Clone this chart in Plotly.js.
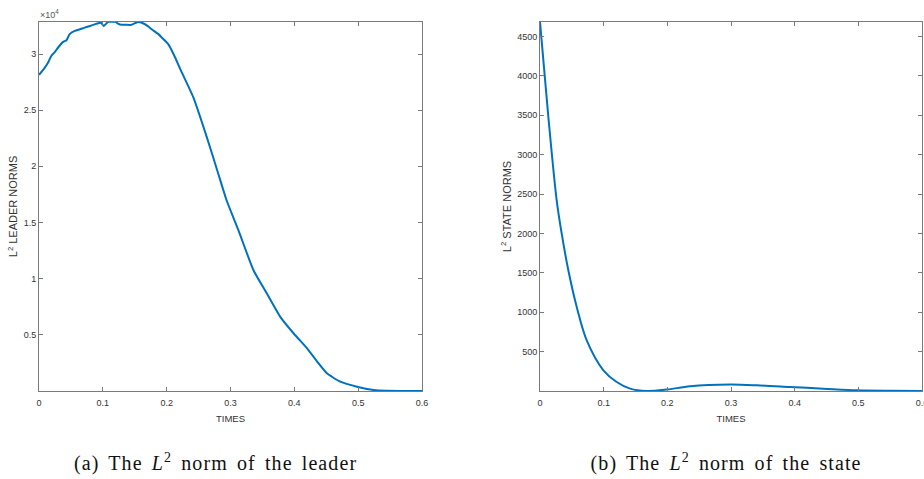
<!DOCTYPE html>
<html>
<head>
<meta charset="utf-8">
<script src="https://cdn.plot.ly/plotly-3.0.1.min.js"></script>
<style>
html,body{margin:0;padding:0;background:#fff;}
#chart{width:924px;height:479px;}
text.annotation-text.caption-like{letter-spacing:1.1px;word-spacing:3px;}
</style>
</head>
<body>
<div id="chart"></div>
<script>
// Leader L2 norm (values in units of 1e4)
const leaderTimes = [0, 0.008, 0.0143, 0.0194, 0.025, 0.03, 0.0377, 0.043, 0.048, 0.056, 0.064, 0.0717, 0.08, 0.0926, 0.097, 0.1016, 0.1083, 0.119, 0.127, 0.136, 0.145, 0.155, 0.163, 0.17, 0.1764, 0.187, 0.195, 0.2025, 0.212, 0.221, 0.2418, 0.263, 0.28, 0.294, 0.3125, 0.336, 0.357, 0.378, 0.399, 0.42, 0.436, 0.451, 0.472, 0.498, 0.524, 0.545, 0.57, 0.6];
const leaderNorms = [2.815, 2.87, 2.925, 2.984, 3.02, 3.058, 3.108, 3.123, 3.177, 3.206, 3.22, 3.235, 3.25, 3.274, 3.278, 3.25, 3.286, 3.286, 3.262, 3.26, 3.26, 3.286, 3.274, 3.25, 3.221, 3.177, 3.132, 3.088, 2.985, 2.87, 2.614, 2.258, 1.95, 1.696, 1.43, 1.075, 0.868, 0.66, 0.512, 0.379, 0.26, 0.157, 0.083, 0.038, 0.009, 0.002, 0.0005, 0.0002];
// State L2 norm
const stateTimes = [0, 0.0131, 0.0262, 0.0341, 0.0445, 0.0577, 0.0734, 0.0996, 0.1205, 0.1415, 0.168, 0.199, 0.236, 0.299, 0.341, 0.393, 0.445, 0.498, 0.55, 0.6];
const stateNorms = [4683, 3480, 2420, 1997, 1532, 1066, 643, 263, 114, 30, 0, 18, 60, 81, 72, 51, 30, 9, 3, 1];

const xTicks = [0, 0.1, 0.2, 0.3, 0.4, 0.5, 0.6];
const xTickText = ['0', '0.1', '0.2', '0.3', '0.4', '0.5', '0.6'];
const leaderTicks = [0.5, 1, 1.5, 2, 2.5, 3];
const leaderTickText = ['0.5', '1', '1.5', '2', '2.5', '3'];
const stateTicks = [500, 1000, 1500, 2000, 2500, 3000, 3500, 4000, 4500];
const stateTickText = ['500', '1000', '1500', '2000', '2500', '3000', '3500', '4000', '4500'];

const W = 924, H = 479;
const px = v => v / W, py = v => 1 - v / H;
const lineColor = '#0072BD';
const sans = 'Liberation Sans, Arial, sans-serif';
const tickFont = {family: sans, size: 9, color: '#333'};
const axColor = '#7a7a7a';

function xa(domain, anchor) {
  return {domain: domain, anchor: anchor, range: [0, 0.6], tickvals: xTicks, ticktext: xTickText,
    ticks: 'inside', ticklen: 4, tickcolor: axColor, showline: true, linecolor: axColor, linewidth: 1,
    mirror: 'ticks', showgrid: false, zeroline: false, tickfont: tickFont, ticklabelstandoff: 3,
    ticklabeloverflow: 'allow',
    title: {text: 'TIMES', font: {family: sans, size: 9.5, color: '#333'}, standoff: 8}};
}
function ya(domain, anchor, range, tv, tt, title) {
  return {domain: domain, anchor: anchor, range: range, tickvals: tv, ticktext: tt,
    ticks: 'inside', ticklen: 4, tickcolor: axColor, showline: true, linecolor: axColor, linewidth: 1,
    mirror: 'ticks', showgrid: false, zeroline: false, tickfont: tickFont, ticklabeloverflow: 'allow',
    title: {text: title, font: {family: sans, size: 11, color: '#333'}, standoff: 3}};
}

const yDom = [py(391), py(22)];
const data = [
  {x: leaderTimes, y: leaderNorms, xaxis: 'x', yaxis: 'y', mode: 'lines', line: {color: lineColor, width: 2, shape: 'spline', smoothing: 0.5}, hoverinfo: 'skip'},
  {x: stateTimes, y: stateNorms, xaxis: 'x2', yaxis: 'y2', mode: 'lines', line: {color: lineColor, width: 2, shape: 'spline', smoothing: 0.9}, hoverinfo: 'skip'}
];
const capFont = {family: 'Liberation Serif, Times New Roman, serif', size: 20, color: '#111'};
const layout = {
  width: W, height: H, margin: {l: 0, r: 0, t: 0, b: 0},
  paper_bgcolor: '#fff', plot_bgcolor: '#fff', showlegend: false,
  xaxis: xa([px(39), px(422)], 'y'),
  yaxis: ya(yDom, 'x', [0, 3.285], leaderTicks, leaderTickText, 'L<sup>2</sup> LEADER NORMS'),
  xaxis2: xa([px(540), px(922)], 'y2'),
  yaxis2: ya(yDom, 'x2', [0, 4683], stateTicks, stateTickText, 'L<sup>2</sup> STATE NORMS'),
  annotations: [
    {text: '×10<sup>4</sup>', x: px(38), y: py(14), xref: 'paper', yref: 'paper', xanchor: 'left', yanchor: 'middle', showarrow: false, font: {family: sans, size: 9, color: '#555'}},
    {text: '(a) The <i>L</i><sup>2</sup> norm of the leader', x: px(216), y: py(462), xref: 'paper', yref: 'paper', xanchor: 'center', yanchor: 'middle', showarrow: false, font: capFont},
    {text: '(b) The <i>L</i><sup>2</sup> norm of the state', x: px(726), y: py(462), xref: 'paper', yref: 'paper', xanchor: 'center', yanchor: 'middle', showarrow: false, font: capFont}
  ]
};
Plotly.newPlot('chart', data, layout, {displayModeBar: false, staticPlot: true}).then(function (gd) {
  gd.querySelectorAll('g.annotation text.annotation-text').forEach(function (t, i) { if (i > 0) t.classList.add('caption-like'); });
});
</script>
</body>
</html>
